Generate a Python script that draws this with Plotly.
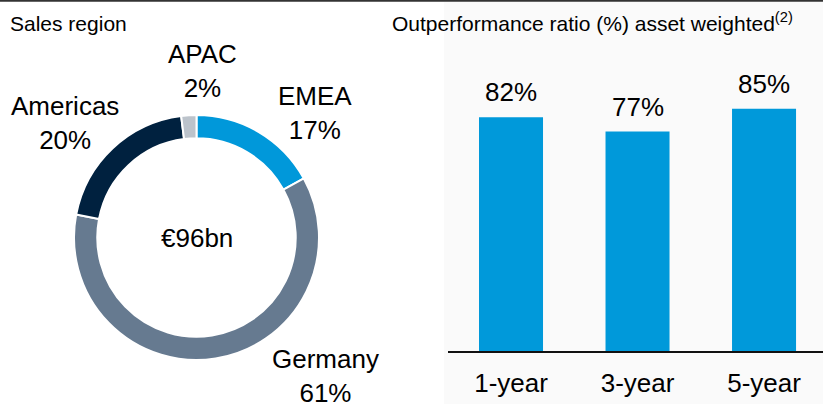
import plotly.graph_objects as go

# Sales region split (share of €96bn)
regions = ["EMEA", "Germany", "Americas", "APAC"]
region_share = [17, 61, 20, 2]
region_colors = ["#0098DA", "#667A90", "#00213F", "#BCC3CB"]

# Outperformance ratio, asset weighted
periods = ["1-year", "3-year", "5-year"]
outperformance = [82, 77, 85]

total_label = "€96bn"

W, H = 823, 404
FONT = "Liberation Sans, Arial, sans-serif"


def px(x):
    return x / W


def py(y):
    return (H - y) / H


fig = go.Figure()

# donut of sales regions, first slice starting at 12 o'clock, clockwise
fig.add_trace(go.Pie(
    labels=regions,
    values=region_share,
    sort=False,
    direction="clockwise",
    rotation=0,
    hole=0.81,
    marker=dict(colors=region_colors, line=dict(color="white", width=2)),
    textinfo="none",
    hoverinfo="label+percent",
    domain=dict(x=[px(74), px(319)], y=[py(360), py(115)]),
    showlegend=False,
))

# bars of outperformance ratio
fig.add_trace(go.Bar(
    x=periods,
    y=outperformance,
    width=0.506,
    marker=dict(color="#0099DA", line=dict(width=0)),
    showlegend=False,
    hoverinfo="x+y",
))

annotations = []

# region labels around the donut
label_pos = {
    "APAC": (202, 71),
    "EMEA": (315, 113),
    "Americas": (65, 123),
    "Germany": (325, 376),
}
for name, share in zip(regions, region_share):
    x, y = label_pos[name]
    annotations.append(dict(
        x=px(x), y=py(y), xref="paper", yref="paper",
        text=f"{name}<br>{share}%", showarrow=False,
        xanchor="center", yanchor="middle",
        font=dict(family=FONT, size=26, color="#000000"),
    ))

# total in the donut hole
annotations.append(dict(
    x=px(196.5), y=py(238), xref="paper", yref="paper",
    text=total_label, showarrow=False, xanchor="center", yanchor="middle",
    font=dict(family=FONT, size=26, color="#000000"),
))

# value labels above each bar
for p, v in zip(periods, outperformance):
    annotations.append(dict(
        x=p, y=v, xref="x", yref="y",
        text=f"{v}%", showarrow=False, xanchor="center", yanchor="bottom",
        yshift=8,
        font=dict(family=FONT, size=26, color="#000000"),
    ))

# panel titles
annotations.append(dict(
    x=px(8), y=py(23), xref="paper", yref="paper",
    text="Sales region", showarrow=False, xanchor="left", yanchor="middle",
    font=dict(family=FONT, size=21, color="#000000"),
))
annotations.append(dict(
    x=px(390), y=py(22), xref="paper", yref="paper",
    text="Outperformance ratio (%) asset weighted<sup>(2)</sup>",
    showarrow=False, xanchor="left", yanchor="middle",
    font=dict(family=FONT, size=21, color="#000000"),
))

shapes = [
    # faint backdrop behind the bar panel
    dict(type="rect", xref="paper", yref="paper",
         x0=px(444), x1=1, y0=0, y1=py(2),
         fillcolor="#FAFAFA", line=dict(width=0), layer="below"),
    # rule along the top edge
    dict(type="line", xref="paper", yref="paper",
         x0=0, x1=1, y0=py(0.8), y1=py(0.8),
         line=dict(color="#333333", width=2)),
]

fig.update_layout(
    width=W, height=H,
    margin=dict(l=0, r=0, t=0, b=0),
    paper_bgcolor="#FFFFFF",
    plot_bgcolor="rgba(0,0,0,0)",
    font=dict(family=FONT, color="#000000"),
    annotations=annotations,
    shapes=shapes,
    xaxis=dict(
        domain=[px(448), 1.0],
        range=[-0.498, 2.466],
        showline=True, linecolor="#111111", linewidth=1.5,
        showgrid=False, zeroline=False,
        ticks="outside", ticklen=8, tickcolor="rgba(0,0,0,0)",
        tickfont=dict(family=FONT, size=26, color="#000000"),
        fixedrange=True,
    ),
    yaxis=dict(
        domain=[py(351), py(66)],
        range=[0, 100],
        visible=False,
        fixedrange=True,
    ),
    hovermode=False,
)

fig.write_html("out.html")
